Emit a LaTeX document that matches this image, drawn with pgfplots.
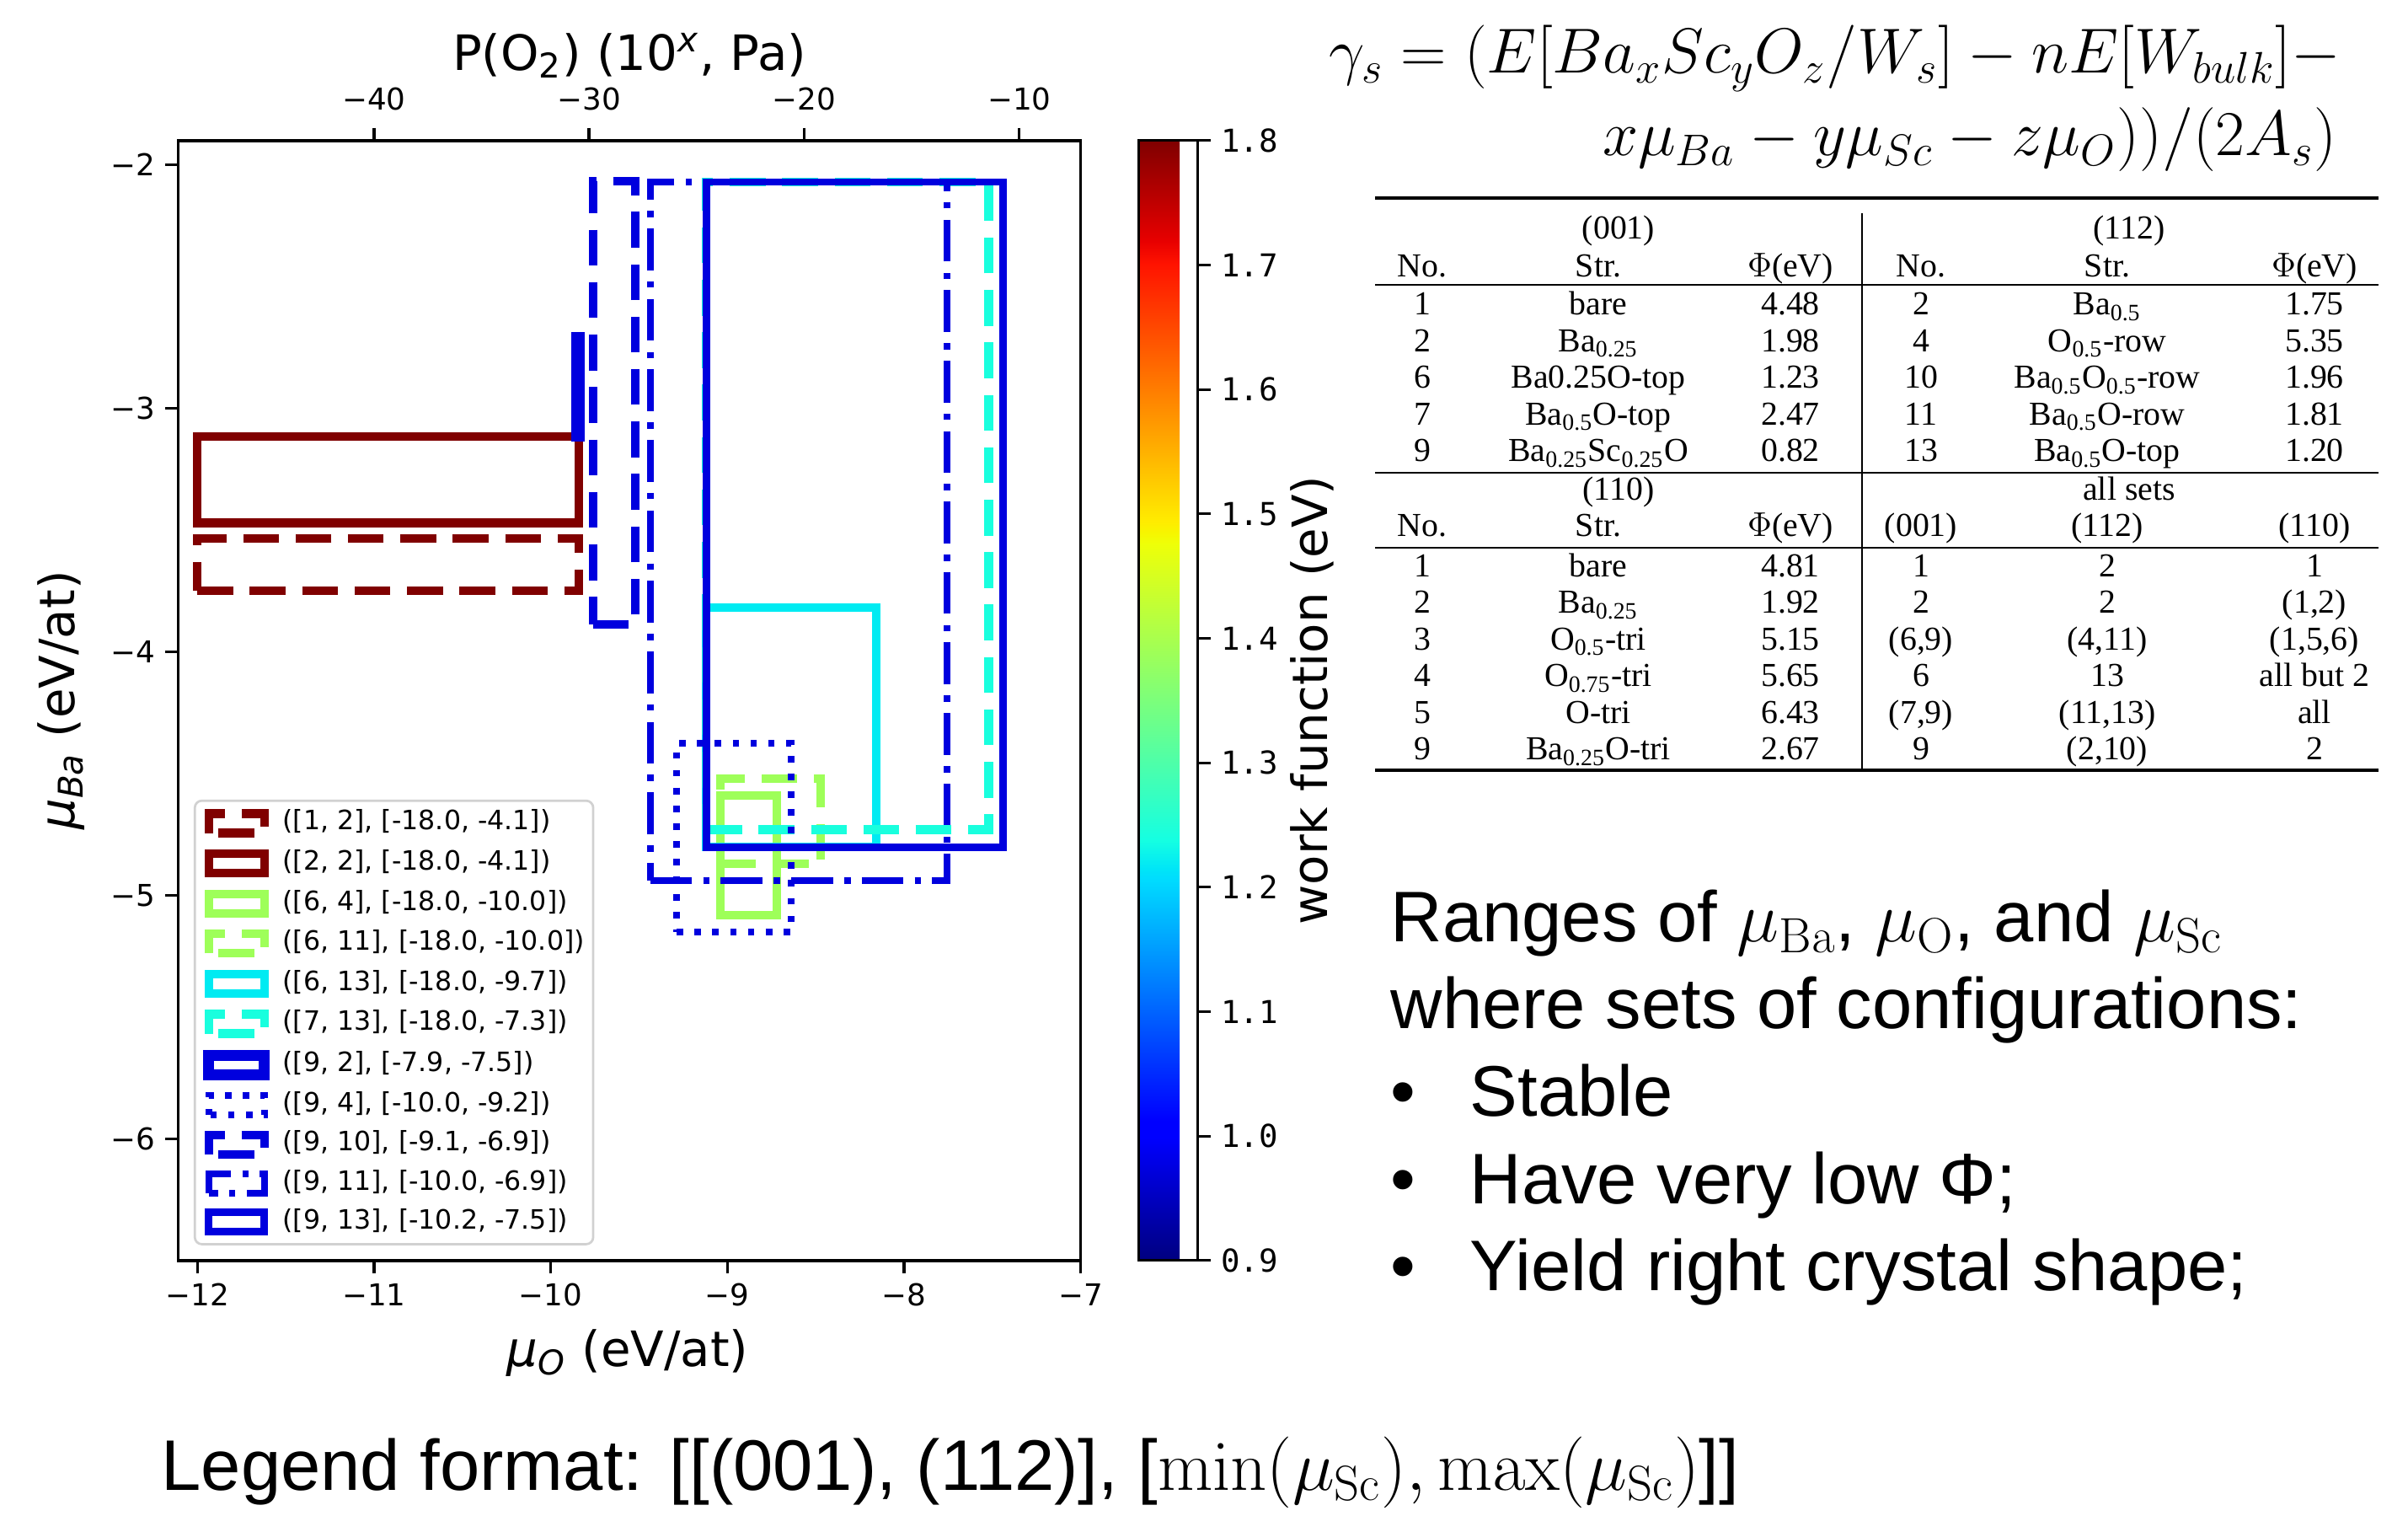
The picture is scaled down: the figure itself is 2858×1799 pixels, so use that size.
\documentclass[border=0pt]{standalone}
\usepackage[no-math]{fontspec}
\setmainfont{Liberation Sans}
\newfontfamily\dejavu{DejaVu Sans}
\newfontfamily\dvmono{DejaVu Sans Mono}
\newfontfamily\timesf{Liberation Serif}
\usepackage{pgfplots}
\pgfplotsset{compat=1.18}

\definecolor{cdred}{rgb}{0.5,0,0}
\definecolor{cgreen}{rgb}{0.62,1,0.35}
\definecolor{ccyan}{rgb}{0,0.92,0.95}
\definecolor{cturq}{rgb}{0.1,1,0.87}
\definecolor{cblue}{rgb}{0,0,0.87}

% matplotlib jet
\pgfplotsset{colormap={mpljet}{rgb(0pt)=(0,0,0.5); rgb(110pt)=(0,0,1); rgb(125pt)=(0,0,1);
  rgb(340pt)=(0,0.86,1); rgb(350pt)=(0,0.9,0.968); rgb(375pt)=(0.081,1,0.887);
  rgb(640pt)=(0.935,1,0.032); rgb(650pt)=(0.968,0.963,0); rgb(660pt)=(1,0.926,0);
  rgb(890pt)=(1,0.074,0); rgb(910pt)=(0.909,0,0); rgb(1000pt)=(0.5,0,0)}}

\tikzset{
  dsh/.style={dash pattern=on 12.5pt off 5.8pt},
  dtt/.style={dash pattern=on 2.3pt off 3.9pt},
  dshdot/.style={dash pattern=on 14.6pt off 3.9pt on 2.2pt off 3.9pt},
}
\newcommand\sub[1]{\textsubscript{#1}}

\begin{document}
\begin{tikzpicture}
% px: one unit = one pixel of the reference, y downwards
\begin{scope}[x=0.2941176pt, y=-0.2941176pt]
\path[use as bounding box] (0,0) rectangle (2858,1799);
\end{scope}

\begin{axis}[
  at={(62.12pt,-439.97pt)}, anchor=south west,
  scale only axis, width=315.1pt, height=390.9pt,
  xmin=-12.11, xmax=-7.0, ymin=-6.5, ymax=-1.9,
  xtick={-12,-11,-10,-9,-8,-7}, xticklabels={−12,−11,−10,−9,−8,−7},
  ytick={-6,-5,-4,-3,-2}, yticklabels={−6,−5,−4,−3,−2},
  tick label style={font=\dejavu\fontsize{10.5}{12}\selectfont},
  tick pos=left, tick align=outside, major tick length=4.5pt,
  major tick style={line width=1pt, black},
  axis line style={line width=1pt},
  no markers,
  colormap name=mpljet,
  colorbar,
  point meta min=0.9, point meta max=1.8,
  colorbar style={
    at={(parent axis.north east)}, anchor=north west, xshift=11.8pt,
    width=20.6pt,
    ytick={0.9,1.0,1.1,1.2,1.3,1.4,1.5,1.6,1.7,1.8},
    yticklabels={0.9,1.0,1.1,1.2,1.3,1.4,1.5,1.6,1.7,1.8},
    yticklabel style={font=\dvmono\fontsize{11}{12}\selectfont},
    ytick pos=right, yticklabel pos=right,
    tick align=outside, major tick length=4.6pt,
    major tick style={line width=0.9pt, black},
    axis line style={line width=0.9pt},
  },
  legend cell align=left,
  legend style={at={(0.0174,0.0136)}, anchor=south west,
    draw=black!18, line width=0.8pt, rounded corners=2.5pt, fill=white,
    inner xsep=3pt, inner ysep=3pt,
    font=\dejavu\fontsize{9.3}{11}\selectfont,
    row sep=4.2pt, column sep=4.5pt,
    nodes={inner sep=0pt, text height=6.8pt, text depth=2.2pt}},
  legend image code/.code={\draw[#1, sharp corners] (0pt,-3.4pt) rectangle (19.4pt,3.4pt);},
]
\addplot[cdred, line width=3pt, dsh] coordinates {(-12.0,-3.75) (-9.84,-3.75) (-9.84,-3.535) (-12.0,-3.535)} -- cycle;
\addlegendentry{([1, 2], [-18.0, -4.1])}
\addplot[cdred, line width=3pt] coordinates {(-12.0,-3.47) (-9.84,-3.47) (-9.84,-3.115) (-12.0,-3.115)} -- cycle;
\addlegendentry{([2, 2], [-18.0, -4.1])}
\addplot[cgreen, line width=3pt] coordinates {(-9.04,-5.08) (-8.72,-5.08) (-8.72,-4.59) (-9.04,-4.59)} -- cycle;
\addlegendentry{([6, 4], [-18.0, -10.0])}
\addplot[cgreen, line width=3pt, dsh] coordinates {(-9.04,-4.87) (-8.47,-4.87) (-8.47,-4.52) (-9.04,-4.52)} -- cycle;
\addlegendentry{([6, 11], [-18.0, -10.0])}
\addplot[ccyan, line width=3pt] coordinates {(-9.12,-4.80) (-8.156,-4.80) (-8.156,-3.817) (-9.12,-3.817)} -- cycle;
\addlegendentry{([6, 13], [-18.0, -9.7])}
\addplot[cturq, line width=3pt, dsh] coordinates {(-9.12,-4.73) (-7.52,-4.73) (-7.52,-2.07) (-9.12,-2.07)} -- cycle;
\addlegendentry{([7, 13], [-18.0, -7.3])}
\addplot[cblue, line width=3.8pt] coordinates {(-9.853,-3.115) (-9.837,-3.115) (-9.837,-2.707) (-9.853,-2.707)} -- cycle;
\addlegendentry{([9, 2], [-7.9, -7.5])}
\addplot[cblue, line width=2.3pt, dtt] coordinates {(-9.286,-5.151) (-8.638,-5.151) (-8.638,-4.376) (-9.286,-4.376)} -- cycle;
\addlegendentry{([9, 4], [-10.0, -9.2])}
\addplot[cblue, line width=3pt, dsh] coordinates {(-9.76,-3.888) (-9.52,-3.888) (-9.52,-2.067) (-9.76,-2.067)} -- cycle;
\addlegendentry{([9, 10], [-9.1, -6.9])}
\addplot[cblue, line width=2.3pt, dshdot] coordinates {(-9.436,-4.94) (-7.755,-4.94) (-7.755,-2.07) (-9.436,-2.07)} -- cycle;
\addlegendentry{([9, 11], [-10.0, -6.9])}
\addplot[cblue, line width=2.6pt] coordinates {(-9.12,-4.804) (-7.44,-4.804) (-7.44,-2.07) (-9.12,-2.07)} -- cycle;
\addlegendentry{([9, 13], [-10.2, -7.5])}
\end{axis}

% secondary top axis: oxygen partial pressure
\begin{axis}[
  at={(62.12pt,-439.97pt)}, anchor=south west,
  scale only axis, width=315.1pt, height=390.9pt,
  xmin=-49.11, xmax=-7.15, ymin=0, ymax=1,
  axis x line*=top, axis y line=none,
  xtick={-40,-30,-20,-10}, xticklabels={−40,−30,−20,−10},
  tick label style={font=\dejavu\fontsize{10.5}{12}\selectfont},
  xticklabel style={yshift=2.5pt},
  tick align=outside, major tick length=4.5pt,
  major tick style={line width=1pt, black},
  axis line style={line width=1pt},
]
\end{axis}

\begin{scope}[x=0.2941176pt, y=-0.2941176pt]
% axis labels
\begin{scope}[every node/.style={font=\dejavu\fontsize{17}{20}\selectfont}]
\node at (745,1606) {{\itshape μ\textsubscript{O}} (eV/at)};
\node[rotate=90] at (73,831) {{\itshape μ\textsubscript{Ba}} (eV/at)};
\node at (747,66) {P(O\textsubscript{2}) (10\textsuperscript{\itshape x}, Pa)};
\node[rotate=90] at (1557,831) {work function (eV)};
\end{scope}

% formula (math fonts come in fixed sizes, so scale the 20.74pt set)
\node[anchor=base west, inner sep=0pt] at (1577,87)
  {\scalebox{1.07}{\fontsize{20.74}{25}\selectfont $\gamma_s = (E[Ba_xSc_yO_z/W_s] - nE[W_{bulk}]{-}$}};
\node[anchor=base east, inner sep=0pt] at (2774,185)
  {\scalebox{1.075}{\fontsize{20.74}{25}\selectfont $x\mu_{Ba} - y\mu_{Sc} - z\mu_O))/(2A_s)$}};

% table
\begin{scope}[font=\timesf\fontsize{11.7}{13}\selectfont, every node/.style={anchor=base, inner sep=0pt}]
\draw[line width=1.1pt] (1632,235) -- (2823,235);
\draw[line width=0.6pt] (1632,338) -- (2823,338);
\draw[line width=0.6pt] (1632,561) -- (2823,561);
\draw[line width=0.6pt] (1632,650) -- (2823,650);
\draw[line width=1.1pt] (1632,914) -- (2823,914);
\draw[line width=0.5pt] (2210,253) -- (2210,914);
\node at (1921,284) {(001)};
\node at (2527,284) {(112)};
\node at (1921,594) {(110)};
\node at (2527,594) {all sets};
\foreach \y/\a/\b/\c/\d/\e/\f in {
  329/No./Str./$\Phi$(eV)/No./Str./$\Phi$(eV),
  374/1/bare/4.48/2/Ba\sub{0.5}/1.75,
  417.5/2/Ba\sub{0.25}/1.98/4/O\sub{0.5}-row/5.35,
  461/6/Ba0.25O-top/1.23/10/Ba\sub{0.5}O\sub{0.5}-row/1.96,
  504.5/7/Ba\sub{0.5}O-top/2.47/11/Ba\sub{0.5}O-row/1.81,
  548/9/Ba\sub{0.25}Sc\sub{0.25}O/0.82/13/Ba\sub{0.5}O-top/1.20,
  637/No./Str./$\Phi$(eV)/(001)/(112)/(110),
  684.5/1/bare/4.81/1/2/1,
  728/2/Ba\sub{0.25}/1.92/2/2/{(1,2)},
  771.5/3/O\sub{0.5}-tri/5.15/{(6,9)}/{(4,11)}/{(1,5,6)},
  815/4/O\sub{0.75}-tri/5.65/6/13/all but 2,
  858.5/5/O-tri/6.43/{(7,9)}/{(11,13)}/all,
  902/9/Ba\sub{0.25}O-tri/2.67/9/{(2,10)}/2}
{
  \node at (1688,\y) {\a};
  \node at (1897,\y) {\b};
  \node at (2125,\y) {\c};
  \node at (2280,\y) {\d};
  \node at (2501,\y) {\e};
  \node at (2747,\y) {\f};
}
\end{scope}

% notes
\begin{scope}[every node/.style={anchor=base west, inner sep=0pt, font=\fontsize{25}{30}\selectfont}]
\node at (1650,1118) {Ranges of $\mu_{\mathrm{Ba}}$, $\mu_{\mathrm{O}}$, and $\mu_{\mathrm{Sc}}$};
\node at (1650,1221) {where sets of configurations:};
\node at (1650,1325) {•}; \node at (1744,1325) {Stable};
\node at (1650,1428) {•}; \node at (1744,1428) {Have very low Φ;};
\node at (1650,1531) {•}; \node at (1744,1531) {Yield right crystal shape;};
\node at (191,1768) {Legend format: [[(001), (112)], [$\min(\mu_{\mathrm{Sc}}), \max(\mu_{\mathrm{Sc}})$]]};
\end{scope}
\end{scope}
\end{tikzpicture}
\end{document}
